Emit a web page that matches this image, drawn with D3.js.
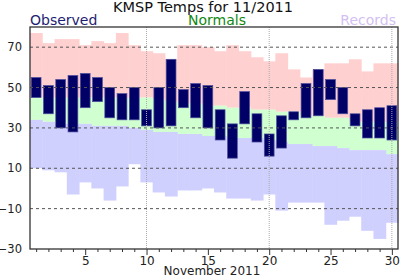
<!DOCTYPE html>
<html>
<head>
<meta charset="utf-8">
<script src="https://cdn.jsdelivr.net/npm/d3@7"></script>
<style>
body { margin: 0; background: #fff; }
text { font-family: "DejaVu Sans", sans-serif; }
</style>
</head>
<body>
<div id="chart"></div>
<script>
// temps for KMSP, november 2011
var days = d3.range(1, 31);
var rec_high = [77,72,74,74,71,73,72,77,71,68,67,64,71,71,70,68,71,68,65,63,67,59,55,59,62,62,64,58,62,62];
var norm_high = [45,45,45,45,45,45,45,45,45,45,44,43,42,42,41,41,40,40,39,39,38,38,36,36,35,35,33,33,33,33];
var norm_low = [34,33,32,32,32,31,31,31,30,29,28,28,27,27,26,26,25,25,25,24,23,22,22,21,21,20,19,19,19,17];
var rec_low = [10,9,8,-3,3,0,-6,1,12,3,-2,-4,-1,-1,0,-2,-5,-5,-6,-3,-11,-7,-7,-7,-18,-16,-14,-21,-25,-17];
var obs_high = [55,51,54,56,57,55,50,47,50,39,50,64,49,52,51,39,32,48,37,27,36,38,52,59,54,50,37,39,40,41];
var obs_low = [45,37,30,28,40,43,35,34,34,31,30,31,40,35,30,24,15,32,23,16,20,34,35,36,44,37,31,25,25,24];
var y_ticks = [70, 50, 30, 10, -10, -30];
var x_labels = [5, 10, 15, 20, 25, 30];

var width = 408, height = 280;
var pad_left = 30, pad_right = 398, pad_top = 27, pad_bottom = 249;

var svg = d3.select("#chart").append("svg").attr("width", width).attr("height", height);

var x = d3.scaleLinear().domain([0.5, 30.5]).range([pad_left, pad_right]);
var y = d3.scaleLinear().domain([-30, 80]).range([pad_bottom, pad_top]);
var dw = x(2) - x(1);

var data = days.map(function(d, i){
    return {day: d, rh: rec_high[i], nh: norm_high[i], nl: norm_low[i], rl: rec_low[i], oh: obs_high[i], ol: obs_low[i]};
});

function band(cls, color, hi, lo){
    svg.append("g").attr("class", cls).selectAll("rect").data(data).enter().append("rect")
        .attr("x", function(d){ return x(d.day - 0.5); })
        .attr("width", dw + 0.5)
        .attr("y", function(d){ return y(hi(d)); })
        .attr("height", function(d){ return y(lo(d)) - y(hi(d)); })
        .attr("fill", color);
}
band("rechigh", "#ffd0d0", function(d){return d.rh;}, function(d){return d.nh;});
band("normals", "#d0ffd0", function(d){return d.nh;}, function(d){return d.nl;});
band("reclow", "#d0d0ff", function(d){return d.nl;}, function(d){return d.rl;});

// observed bars
svg.append("g").selectAll("rect").data(data).enter().append("rect")
    .attr("x", function(d){ return x(d.day) - dw * 0.4; })
    .attr("width", dw * 0.8)
    .attr("y", function(d){ return y(d.oh); })
    .attr("height", function(d){ return y(d.ol) - y(d.oh); })
    .attr("fill", "#000066")
    .attr("stroke", "#5252a0")
    .attr("stroke-width", 0.7);

// grid
svg.append("g").selectAll("line").data(y_ticks.slice(0, 5)).enter().append("line")
    .attr("x1", pad_left).attr("x2", pad_right)
    .attr("y1", function(d){ return y(d); }).attr("y2", function(d){ return y(d); })
    .attr("stroke", "#555").attr("stroke-width", 1).attr("stroke-dasharray", "3,3");
svg.append("g").selectAll("line").data([10, 20, 30]).enter().append("line")
    .attr("x1", function(d){ return x(d); }).attr("x2", function(d){ return x(d); })
    .attr("y1", pad_top).attr("y2", pad_bottom)
    .attr("stroke", "#aaa").attr("stroke-width", 1).attr("stroke-dasharray", "1,1");

// axes
var xaxis = d3.axisBottom(x).tickValues(days).tickSize(4)
    .tickFormat(function(d){ return x_labels.indexOf(d) >= 0 ? d : ""; });
var gx = svg.append("g").attr("transform", "translate(0," + pad_bottom + ")").call(xaxis);
gx.select(".domain").remove();
gx.selectAll(".tick line").attr("stroke", "#333")
    .attr("y2", function(d){ return x_labels.indexOf(d) >= 0 ? 6 : 3; });
gx.selectAll(".tick text").attr("y", 7).attr("font-size", 12).attr("fill", "#222")
    .attr("font-family", "DejaVu Sans");

var yaxis = d3.axisLeft(y).tickValues(y_ticks).tickSize(0).tickPadding(8);
var gy = svg.append("g").attr("transform", "translate(" + pad_left + ",0)").call(yaxis);
gy.select(".domain").remove();
gy.selectAll(".tick text").attr("font-size", 11.5).attr("fill", "#222").attr("font-family", "DejaVu Sans");

svg.append("rect").attr("x", pad_left).attr("y", pad_top).attr("width", pad_right - pad_left).attr("height", pad_bottom - pad_top)
    .attr("fill", "none").attr("stroke", "#333").attr("stroke-width", 1.3);

// titles
svg.append("text").attr("x", 203).attr("y", 12).attr("text-anchor", "middle")
    .attr("font-size", 14.5).attr("fill", "#111").text("KMSP Temps for 11/2011");
svg.append("text").attr("x", 30).attr("y", 24.5).attr("font-size", 14).attr("fill", "#1e1e72").text("Observed");
svg.append("text").attr("x", 217).attr("y", 24.5).attr("text-anchor", "middle").attr("font-size", 14).attr("fill", "#118811").text("Normals");
svg.append("text").attr("x", 396).attr("y", 24.5).attr("text-anchor", "end").attr("font-size", 14).attr("fill", "#d4bff2").text("Records");
svg.append("text").attr("x", 212).attr("y", 275).attr("text-anchor", "middle").attr("font-size", 12).attr("fill", "#222").text("November 2011");
</script>
</body>
</html>
